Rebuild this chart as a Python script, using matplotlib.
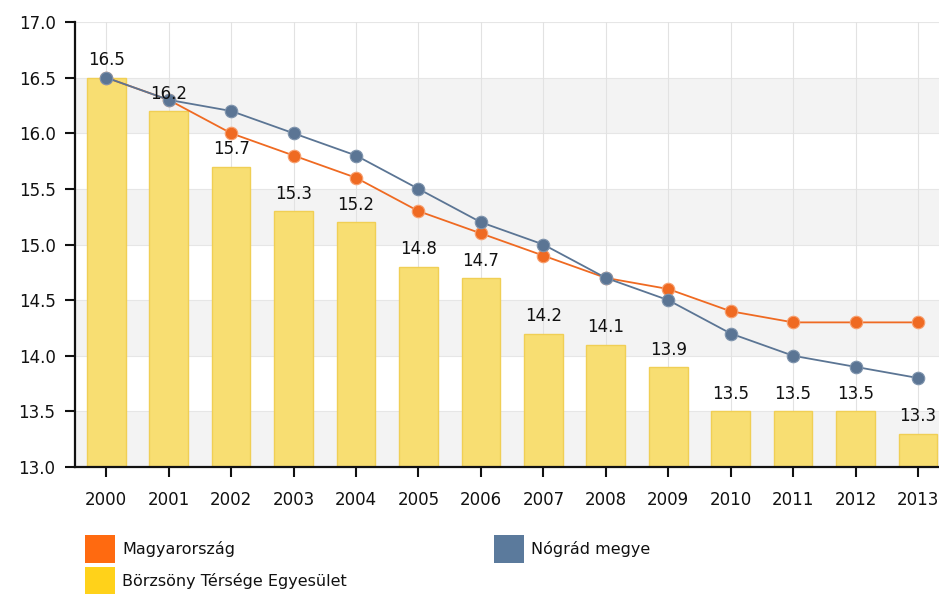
import numpy as np
import matplotlib
matplotlib.use("Agg")
from matplotlib import pyplot as plt
from matplotlib.patches import Rectangle

# data
years = ['2000', '2001', '2002', '2003', '2004', '2005', '2006',
         '2007', '2008', '2009', '2010', '2011', '2012', '2013']
borzsony = [16.5, 16.2, 15.7, 15.3, 15.2, 14.8, 14.7, 14.2, 14.1, 13.9, 13.5, 13.5, 13.5, 13.3]
magyarorszag = [16.5, 16.3, 16.0, 15.8, 15.6, 15.3, 15.1, 14.9, 14.7, 14.6, 14.4, 14.3, 14.3, 14.3]
nograd = [16.5, 16.3, 16.2, 16.0, 15.8, 15.5, 15.2, 15.0, 14.7, 14.5, 14.2, 14.0, 13.9, 13.8]
yticks = [13.0, 13.5, 14.0, 14.5, 15.0, 15.5, 16.0, 16.5, 17.0]

c_orange = '#ef6a22'
c_blue = '#5b7594'
c_bar = '#f8de72'
c_bar_edge = '#f0cf55'

plt.rcParams['font.family'] = ['DejaVu Sans']

fig = plt.figure(figsize=(9.39, 5.94), dpi=100)
ax = fig.add_axes([75 / 939, 1 - 467 / 594, 1 - 75 / 939, (467 - 22) / 594])

x = np.arange(len(years))

# alternating background bands
for lo in yticks[:-1:2]:
    ax.axhspan(lo, lo + 0.5, color='#f3f3f3', zorder=0, lw=0)
for y in yticks:
    ax.axhline(y, color='#e6e6e6', lw=0.8, zorder=0.5)
for xi in x:
    ax.axvline(xi, color='#e2e2e2', lw=0.8, zorder=0.5)

bars = ax.bar(x, np.array(borzsony) - 13.0, bottom=13.0, width=0.62,
              color=c_bar, edgecolor=c_bar_edge, lw=1, zorder=2)
for xi, v in zip(x, borzsony):
    ax.annotate('%.1f' % v, (xi, v), xytext=(0, 6), textcoords='offset points',
                ha='center', va='bottom', fontsize=12, color='#111111', zorder=6)

ax.plot(x, magyarorszag, '-o', color=c_orange, lw=1.3, ms=9,
        markeredgecolor='#f7a070', markeredgewidth=0.8, zorder=3)
ax.plot(x, nograd, '-o', color=c_blue, lw=1.3, ms=9,
        markeredgecolor='#7f94ad', markeredgewidth=0.8, zorder=4)

ax.set_xlim(-0.5, (939 - 106) / ((918 - 106) / 13))
ax.set_ylim(13.0, 17.0)
ax.set_yticks(yticks)
ax.set_yticklabels(['%.1f' % v for v in yticks])
ax.set_xticks(x)
ax.set_xticklabels(years)
ax.tick_params(axis='both', labelsize=12, colors='#111111', length=7, width=1.5, pad=7)
ax.tick_params(axis='x', pad=10)
for s in ['top', 'right']:
    ax.spines[s].set_visible(False)
for s in ['left', 'bottom']:
    ax.spines[s].set_linewidth(1.6)
    ax.spines[s].set_color('#111111')

# legend drawn by hand in figure pixels
legend = [('Magyarország', '#ff6a10', 85, 535),
          ('Nógrád megye', '#5b7a9c', 494, 535),
          ('Börzsöny Térsége Egyesület', '#ffd21a', 85, 567)]
for label, col, px, py in legend:
    fig.add_artist(Rectangle((px / 939, 1 - (py + 28) / 594), 30 / 939, 28 / 594,
                             transform=fig.transFigure, color=col, lw=0))
    fig.text((px + 37) / 939, 1 - (py + 14) / 594, label, fontsize=11.5,
             va='center', ha='left', color='#111111')

fig.savefig('out.png', dpi=100)
